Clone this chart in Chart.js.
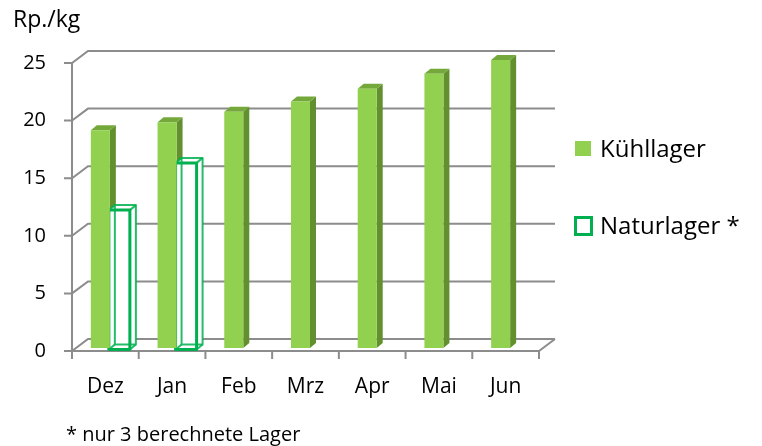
<!DOCTYPE html>
<html>
<head>
<meta charset="utf-8">
<script src="https://cdn.jsdelivr.net/npm/chart.js@4.4.1/dist/chart.umd.min.js"></script>
<style>
  html, body { margin: 0; padding: 0; background: #fff; }
  #wrap { width: 762px; height: 446px; }
</style>
</head>
<body>
<div id="wrap"><canvas id="chart" width="762" height="446"></canvas></div>
<script>
// Chart data
const months = ['Dez', 'Jan', 'Feb', 'Mrz', 'Apr', 'Mai', 'Jun'];
const kuehllager = [18.9, 19.6, 20.5, 21.4, 22.5, 23.8, 25.0];
const naturlager = [12.1, 16.2, null, null, null, null, null];
const yTicks = [0, 5, 10, 15, 20, 25];
const seriesNames = ['Kühllager', 'Naturlager *'];
const unitLabel = 'Rp./kg';
const footnote = '* nur 3 berechnete Lager';

const FONT = '"Open Sans", Lato, sans-serif';
const GREEN = '#92d050';
const GREEN_SIDE = '#62902f';
const GREEN_TOP = '#74a83b';
const OUTLINE = '#00b050';
const GRID = '#8c8c8c';

const WALL = { x: 16, y: -12 };      // depth of the back wall
const BAR_DEPTH = { x: 6, y: -5 };   // depth of each column
const SHIFT = [{ x: 4.5, y: -3 }, { x: 4.5, y: -1.5 }]; // per dataset

function poly(ctx, pts) {
    ctx.beginPath();
    ctx.moveTo(pts[0][0], pts[0][1]);
    for (let i = 1; i < pts.length; i++) ctx.lineTo(pts[i][0], pts[i][1]);
    ctx.closePath();
}

function barBox(bar, s) {
    const p = bar.getProps(['x', 'y', 'base', 'width'], true);
    return {
        l: p.x - p.width / 2 + s.x,
        r: p.x + p.width / 2 + s.x,
        t: p.y + s.y,
        b: p.base + s.y
    };
}

/**
 * Back wall, floor and the depth faces of the columns
 */
const pseudo3d = {
    id: 'pseudo3d',
    beforeDatasetsDraw(chart) {
        const { ctx, chartArea: a, scales: { x, y } } = chart;
        const y0 = y.getPixelForValue(0);
        ctx.save();
        ctx.strokeStyle = GRID;
        ctx.lineWidth = 2;
        ctx.beginPath();
        yTicks.forEach(v => {
            const py = y.getPixelForValue(v);
            ctx.moveTo(a.left - 8, py);
            ctx.lineTo(a.left, py);
            ctx.lineTo(a.left + WALL.x, py + WALL.y);
            ctx.lineTo(a.right + WALL.x, py + WALL.y);
        });
        // front axis and floor edge
        ctx.moveTo(a.left, y.getPixelForValue(yTicks[yTicks.length - 1]));
        ctx.lineTo(a.left, y0);
        ctx.lineTo(a.right, y0);
        ctx.lineTo(a.right + WALL.x, y0 + WALL.y);
        for (let i = 0; i <= months.length; i++) {
            const bx = x.getPixelForValue(i - 0.5);
            ctx.moveTo(bx, y0);
            ctx.lineTo(bx, y0 + 8);
        }
        ctx.stroke();

        // sides and tops of the filled columns
        chart.getDatasetMeta(0).data.forEach(bar => {
            const { l, r, t, b } = barBox(bar, SHIFT[0]);
            ctx.fillStyle = GREEN_SIDE;
            poly(ctx, [[r, t], [r + BAR_DEPTH.x, t + BAR_DEPTH.y], [r + BAR_DEPTH.x, b + BAR_DEPTH.y], [r, b]]);
            ctx.fill();
            ctx.fillStyle = GREEN_TOP;
            poly(ctx, [[l, t], [l + BAR_DEPTH.x, t + BAR_DEPTH.y], [r + BAR_DEPTH.x, t + BAR_DEPTH.y], [r, t]]);
            ctx.fill();
        });

        // white body of the hollow columns (hides the wall behind)
        chart.getDatasetMeta(1).data.forEach((bar, i) => {
            if (naturlager[i] == null) return;
            const { l, r, t, b } = barBox(bar, SHIFT[1]);
            const dx = BAR_DEPTH.x, dy = BAR_DEPTH.y;
            ctx.fillStyle = '#ffffff';
            poly(ctx, [[l - 1, t], [l + dx, t + dy], [r + dx + 1, t + dy], [r + dx + 1, b + dy], [r + 1, b], [l - 1, b]]);
            ctx.fill();
        });
        ctx.restore();
    },
    beforeDatasetDraw(chart, args) {
        const s = SHIFT[args.index];
        chart.ctx.save();
        chart.ctx.translate(s.x, s.y);
    },
    afterDatasetDraw(chart, args) {
        const { ctx } = chart;
        ctx.restore();
        if (args.index !== 1) return;

        // transparent wireframe box for the hollow columns
        ctx.save();
        ctx.strokeStyle = OUTLINE;
        ctx.lineJoin = 'round';
        args.meta.data.forEach((bar, i) => {
            if (naturlager[i] == null) return;
            let { l, r, t, b } = barBox(bar, SHIFT[1]);
            l -= 1; r += 1;
            const dx = BAR_DEPTH.x, dy = BAR_DEPTH.y;
            ctx.lineWidth = 2;
            ctx.globalAlpha = 0.85;
            ctx.strokeRect(l + dx, t + dy, r - l, b - t);
            ctx.beginPath();
            ctx.moveTo(l, t); ctx.lineTo(l + dx, t + dy);
            ctx.moveTo(r, t); ctx.lineTo(r + dx, t + dy);
            ctx.moveTo(r, b); ctx.lineTo(r + dx, b + dy);
            ctx.moveTo(l, b); ctx.lineTo(l + dx, b + dy);
            ctx.stroke();
            ctx.globalAlpha = 1;
            ctx.lineWidth = 3;
            ctx.strokeRect(l, t, r - l, b - t);
        });
        ctx.restore();
    },
    afterDraw(chart) {
        const { ctx } = chart;
        ctx.save();
        ctx.fillStyle = '#000';
        ctx.textBaseline = 'alphabetic';
        ctx.textAlign = 'left';
        ctx.font = `23px ${FONT}`;
        ctx.fillText(unitLabel, 13, 27);

        // legend
        ctx.fillStyle = GREEN;
        ctx.fillRect(575, 141, 16, 15);
        ctx.strokeStyle = OUTLINE;
        ctx.lineWidth = 3;
        ctx.strokeRect(575.5, 217.5, 16, 17);
        ctx.fillStyle = '#000';
        ctx.font = `24px ${FONT}`;
        ctx.fillText(seriesNames[0], 600, 157);
        ctx.fillText(seriesNames[1], 600, 234);

        ctx.font = `20px ${FONT}`;
        ctx.fillText(footnote, 66, 441);
        ctx.restore();
    }
};

const ctx = document.getElementById('chart');

new Chart(ctx, {
    type: 'bar',
    data: {
        labels: months,
        datasets: [{
            label: seriesNames[0],
            data: kuehllager,
            backgroundColor: GREEN,
            borderWidth: 0,
            clip: false
        }, {
            label: seriesNames[1],
            data: naturlager,
            backgroundColor: '#ffffff',
            borderWidth: 0,
            clip: false
        }]
    },
    options: {
        responsive: false,
        animation: false,
        categoryPercentage: 0.57,
        barPercentage: 1.0,
        layout: {
            padding: { left: 0, right: 223, top: 63, bottom: 0 }
        },
        plugins: {
            legend: { display: false },
            tooltip: { enabled: false }
        },
        scales: {
            x: {
                grid: { display: false, drawTicks: false },
                border: { display: false },
                ticks: {
                    padding: 23,
                    color: '#000',
                    font: { family: FONT, size: 21 }
                },
                afterFit(scale) { scale.height = 95; }
            },
            y: {
                min: 0,
                max: 25,
                grid: { display: false, drawTicks: false },
                border: { display: false },
                ticks: {
                    stepSize: 5,
                    padding: 26,
                    color: '#000',
                    font: { family: FONT, size: 20 }
                },
                afterFit(scale) { scale.width = 72; }
            }
        }
    },
    plugins: [pseudo3d]
});
</script>
</body>
</html>
